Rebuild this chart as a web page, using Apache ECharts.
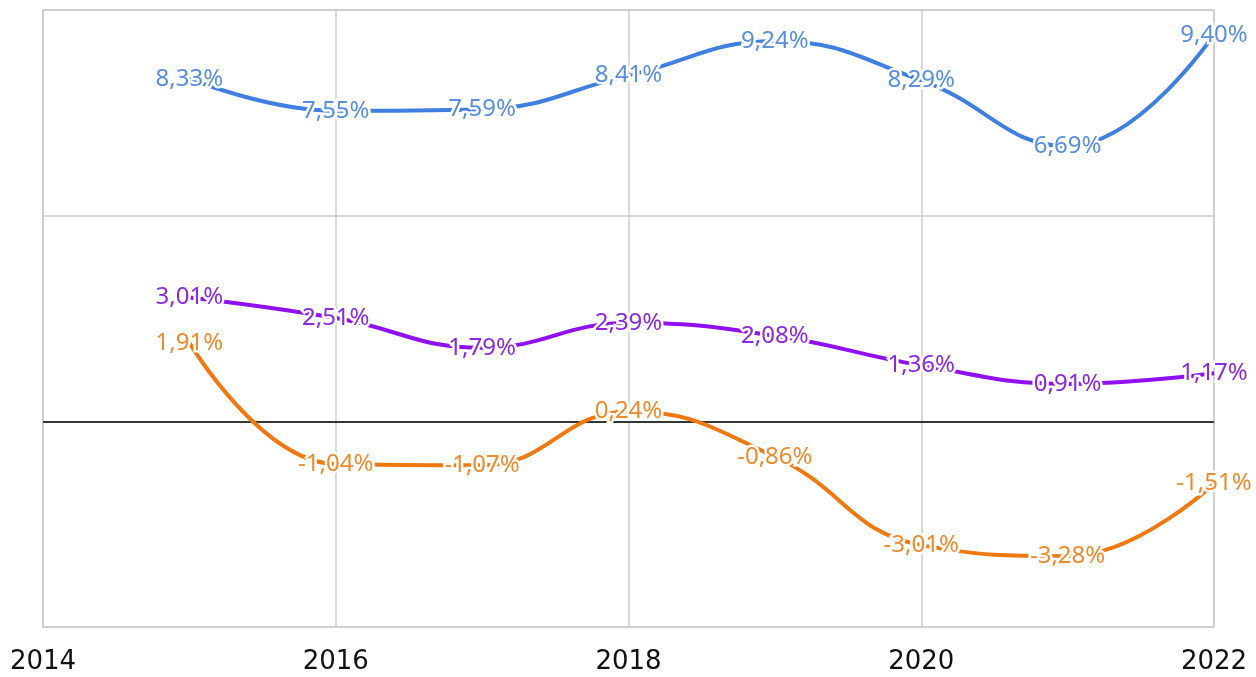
<!DOCTYPE html>
<html>
<head>
<meta charset="utf-8">
<script src="https://cdn.jsdelivr.net/npm/echarts@6/dist/echarts.min.js"></script>
<style>
  html, body { margin: 0; padding: 0; background: #fff; }
  #chart { width: 1256px; height: 677px; }
</style>
</head>
<body>
<div id="chart"></div>
<script>
// years of the points
const years = [2015, 2016, 2017, 2018, 2019, 2020, 2021, 2022];
// three series, percent
const blueValues = [8.33, 7.55, 7.59, 8.41, 9.24, 8.29, 6.69, 9.40];
const purpleValues = [3.01, 2.51, 1.79, 2.39, 2.08, 1.36, 0.91, 1.17];
const orangeValues = [1.91, -1.04, -1.07, 0.24, -0.86, -3.01, -3.28, -1.51];

const pairs = (vals) => years.map((y, i) => [y, vals[i]]);
const fmt = (p) => p.value[1].toFixed(2).replace('.', ',') + '%';

function makeSeries(name, vals, lineColor, labelColor, extra) {
  return Object.assign({
    name: name,
    type: 'line',
    data: pairs(vals),
    smooth: 0.45,
    symbol: 'circle',
    symbolSize: 0.1,
    showSymbol: true,
    lineStyle: { color: lineColor, width: 4 },
    itemStyle: { color: lineColor },
    label: {
      show: true,
      position: 'inside',
      formatter: fmt,
      color: labelColor,
      fontFamily: 'Noto Sans',
      fontSize: 24,
      textBorderColor: '#fff',
      textBorderWidth: 5
    },
    emphasis: { disabled: true }
  }, extra || {});
}

const myChart = echarts.init(document.getElementById('chart'));
myChart.setOption({
  animation: false,
  grid: {
    left: 43, right: 42, top: 10, bottom: 50,
    show: true, borderColor: '#cccccc', borderWidth: 1.5
  },
  xAxis: {
    type: 'value',
    min: 2014, max: 2022, interval: 2,
    axisLine: { show: false, onZero: false },
    axisTick: { show: false },
    splitLine: { show: true, lineStyle: { color: '#cccccc', width: 1.5 } },
    axisLabel: {
      color: '#111', fontFamily: 'DejaVu Sans', fontSize: 26, margin: 22,
      formatter: (v) => String(v)
    }
  },
  yAxis: {
    type: 'value',
    min: -5, max: 10, interval: 5,
    axisLine: { show: false },
    axisTick: { show: false },
    axisLabel: { show: false },
    splitLine: { show: true, lineStyle: { color: '#cccccc', width: 1.5 } }
  },
  series: [
    makeSeries('orange', orangeValues, '#f07810', '#ee8a2e', {
      markLine: {
        silent: true,
        symbol: 'none',
        label: { show: false },
        lineStyle: { color: '#000', type: 'solid', width: 1.5 },
        data: [{ yAxis: 0 }],
        z: 1
      }
    }),
    makeSeries('purple', purpleValues, '#9010f0', '#8a2ae0'),
    makeSeries('blue', blueValues, '#3f7fe0', '#5a8ede')
  ]
});
</script>
</body>
</html>
